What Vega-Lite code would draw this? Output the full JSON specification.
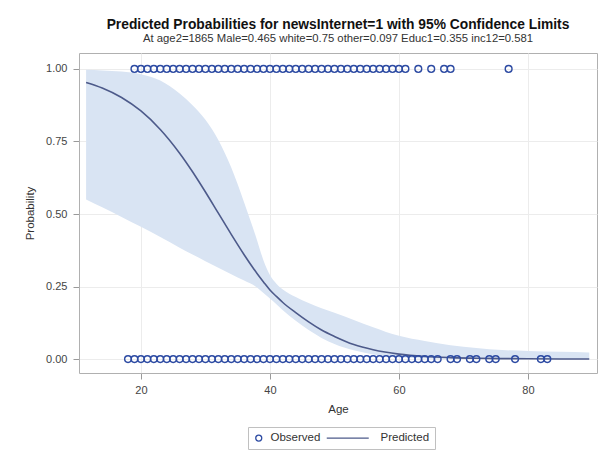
{
  "$schema": "https://vega.github.io/schema/vega-lite/v6.json",
  "autosize": {"type": "none"},
  "padding": {"left": 79, "top": 53, "right": 3, "bottom": 83},
  "width": 518,
  "height": 320,
  "background": "white",
  "title": {
    "text": "Predicted Probabilities for newsInternet=1 with 95% Confidence Limits",
    "subtitle": "At age2=1865 Male=0.465 white=0.75 other=0.097 Educ1=0.355 inc12=0.581",
    "font": "Liberation Sans",
    "fontSize": 13.8,
    "fontWeight": "bold",
    "color": "#111111",
    "subtitleFont": "Liberation Sans",
    "subtitleFontSize": 11.3,
    "subtitleColor": "#333333",
    "subtitlePadding": 1,
    "anchor": "middle",
    "frame": "group",
    "offset": 9
  },
  "config": {
    "view": {"stroke": "#b0b0b0", "strokeWidth": 1},
    "axis": {
      "labelFont": "Liberation Sans",
      "labelFontSize": 11,
      "labelColor": "#444444",
      "titleFont": "Liberation Sans",
      "titleFontSize": 11.5,
      "titleFontWeight": "normal",
      "titleColor": "#333333",
      "tickColor": "#9a9a9a",
      "tickSize": 6,
      "gridColor": "#ececec",
      "domain": false
    }
  },
  "datasets": {
    "curve": [
      {"age": 11.5, "lower": 0.5500, "upper": 0.9970, "pred": 0.9537},
      {"age": 14, "lower": 0.5230, "upper": 0.9950, "pred": 0.9345},
      {"age": 17, "lower": 0.4900, "upper": 0.9910, "pred": 0.9018},
      {"age": 20, "lower": 0.4560, "upper": 0.9820, "pred": 0.8552},
      {"age": 23, "lower": 0.4205, "upper": 0.9600, "pred": 0.7916},
      {"age": 26, "lower": 0.3841, "upper": 0.9150, "pred": 0.7097},
      {"age": 28, "lower": 0.3604, "upper": 0.8750, "pred": 0.6457},
      {"age": 30, "lower": 0.3373, "upper": 0.8250, "pred": 0.5759},
      {"age": 32, "lower": 0.3147, "upper": 0.7550, "pred": 0.5030},
      {"age": 34, "lower": 0.2925, "upper": 0.6600, "pred": 0.4299},
      {"age": 36, "lower": 0.2705, "upper": 0.5400, "pred": 0.3598},
      {"age": 38, "lower": 0.2469, "upper": 0.4100, "pred": 0.2952},
      {"age": 39, "lower": 0.2280, "upper": 0.3400, "pred": 0.2660},
      {"age": 40, "lower": 0.2085, "upper": 0.2900, "pred": 0.2379},
      {"age": 41, "lower": 0.1890, "upper": 0.2600, "pred": 0.2160},
      {"age": 42, "lower": 0.1680, "upper": 0.2400, "pred": 0.1950},
      {"age": 44, "lower": 0.1320, "upper": 0.2140, "pred": 0.1600},
      {"age": 46, "lower": 0.1000, "upper": 0.1930, "pred": 0.1280},
      {"age": 48, "lower": 0.0730, "upper": 0.1750, "pred": 0.1000},
      {"age": 50, "lower": 0.0520, "upper": 0.1600, "pred": 0.0780},
      {"age": 53, "lower": 0.0300, "upper": 0.1350, "pred": 0.0500},
      {"age": 56, "lower": 0.0160, "upper": 0.1100, "pred": 0.0320},
      {"age": 60, "lower": 0.0060, "upper": 0.0800, "pred": 0.0170},
      {"age": 64, "lower": 0.0020, "upper": 0.0620, "pred": 0.0091},
      {"age": 68, "lower": 0.0006, "upper": 0.0480, "pred": 0.0051},
      {"age": 72, "lower": 0.0002, "upper": 0.0380, "pred": 0.0028},
      {"age": 76, "lower": 0.0000, "upper": 0.0310, "pred": 0.0016},
      {"age": 80, "lower": 0.0000, "upper": 0.0280, "pred": 0.0009},
      {"age": 85, "lower": 0.0000, "upper": 0.0250, "pred": 0.0004},
      {"age": 89.5, "lower": 0.0000, "upper": 0.0230, "pred": 0.0002}
    ],
    "obs": [
      {"age": 19, "y": 1, "series": "Observed"}, {"age": 20, "y": 1, "series": "Observed"}, {"age": 21, "y": 1, "series": "Observed"},
      {"age": 22, "y": 1, "series": "Observed"}, {"age": 23, "y": 1, "series": "Observed"}, {"age": 24, "y": 1, "series": "Observed"},
      {"age": 25, "y": 1, "series": "Observed"}, {"age": 26, "y": 1, "series": "Observed"}, {"age": 27, "y": 1, "series": "Observed"},
      {"age": 28, "y": 1, "series": "Observed"}, {"age": 29, "y": 1, "series": "Observed"}, {"age": 30, "y": 1, "series": "Observed"},
      {"age": 31, "y": 1, "series": "Observed"}, {"age": 32, "y": 1, "series": "Observed"}, {"age": 33, "y": 1, "series": "Observed"},
      {"age": 34, "y": 1, "series": "Observed"}, {"age": 35, "y": 1, "series": "Observed"}, {"age": 36, "y": 1, "series": "Observed"},
      {"age": 37, "y": 1, "series": "Observed"}, {"age": 38, "y": 1, "series": "Observed"}, {"age": 39, "y": 1, "series": "Observed"},
      {"age": 40, "y": 1, "series": "Observed"}, {"age": 41, "y": 1, "series": "Observed"}, {"age": 42, "y": 1, "series": "Observed"},
      {"age": 43, "y": 1, "series": "Observed"}, {"age": 44, "y": 1, "series": "Observed"}, {"age": 45, "y": 1, "series": "Observed"},
      {"age": 46, "y": 1, "series": "Observed"}, {"age": 47, "y": 1, "series": "Observed"}, {"age": 48, "y": 1, "series": "Observed"},
      {"age": 49, "y": 1, "series": "Observed"}, {"age": 50, "y": 1, "series": "Observed"}, {"age": 51, "y": 1, "series": "Observed"},
      {"age": 52, "y": 1, "series": "Observed"}, {"age": 53, "y": 1, "series": "Observed"}, {"age": 54, "y": 1, "series": "Observed"},
      {"age": 55, "y": 1, "series": "Observed"}, {"age": 56, "y": 1, "series": "Observed"}, {"age": 57, "y": 1, "series": "Observed"},
      {"age": 58, "y": 1, "series": "Observed"}, {"age": 59, "y": 1, "series": "Observed"}, {"age": 60, "y": 1, "series": "Observed"},
      {"age": 61, "y": 1, "series": "Observed"}, {"age": 63, "y": 1, "series": "Observed"}, {"age": 65, "y": 1, "series": "Observed"},
      {"age": 67, "y": 1, "series": "Observed"}, {"age": 68, "y": 1, "series": "Observed"}, {"age": 77, "y": 1, "series": "Observed"},
      {"age": 18, "y": 0, "series": "Observed"}, {"age": 19, "y": 0, "series": "Observed"}, {"age": 20, "y": 0, "series": "Observed"},
      {"age": 21, "y": 0, "series": "Observed"}, {"age": 22, "y": 0, "series": "Observed"}, {"age": 23, "y": 0, "series": "Observed"},
      {"age": 24, "y": 0, "series": "Observed"}, {"age": 25, "y": 0, "series": "Observed"}, {"age": 26, "y": 0, "series": "Observed"},
      {"age": 27, "y": 0, "series": "Observed"}, {"age": 28, "y": 0, "series": "Observed"}, {"age": 29, "y": 0, "series": "Observed"},
      {"age": 30, "y": 0, "series": "Observed"}, {"age": 31, "y": 0, "series": "Observed"}, {"age": 32, "y": 0, "series": "Observed"},
      {"age": 33, "y": 0, "series": "Observed"}, {"age": 34, "y": 0, "series": "Observed"}, {"age": 35, "y": 0, "series": "Observed"},
      {"age": 36, "y": 0, "series": "Observed"}, {"age": 37, "y": 0, "series": "Observed"}, {"age": 38, "y": 0, "series": "Observed"},
      {"age": 39, "y": 0, "series": "Observed"}, {"age": 40, "y": 0, "series": "Observed"}, {"age": 41, "y": 0, "series": "Observed"},
      {"age": 42, "y": 0, "series": "Observed"}, {"age": 43, "y": 0, "series": "Observed"}, {"age": 44, "y": 0, "series": "Observed"},
      {"age": 45, "y": 0, "series": "Observed"}, {"age": 46, "y": 0, "series": "Observed"}, {"age": 47, "y": 0, "series": "Observed"},
      {"age": 48, "y": 0, "series": "Observed"}, {"age": 49, "y": 0, "series": "Observed"}, {"age": 50, "y": 0, "series": "Observed"},
      {"age": 51, "y": 0, "series": "Observed"}, {"age": 52, "y": 0, "series": "Observed"}, {"age": 53, "y": 0, "series": "Observed"},
      {"age": 54, "y": 0, "series": "Observed"}, {"age": 55, "y": 0, "series": "Observed"}, {"age": 56, "y": 0, "series": "Observed"},
      {"age": 57, "y": 0, "series": "Observed"}, {"age": 58, "y": 0, "series": "Observed"}, {"age": 59, "y": 0, "series": "Observed"},
      {"age": 60, "y": 0, "series": "Observed"}, {"age": 61, "y": 0, "series": "Observed"}, {"age": 62, "y": 0, "series": "Observed"},
      {"age": 63, "y": 0, "series": "Observed"}, {"age": 64, "y": 0, "series": "Observed"}, {"age": 65, "y": 0, "series": "Observed"},
      {"age": 66, "y": 0, "series": "Observed"}, {"age": 68, "y": 0, "series": "Observed"}, {"age": 69, "y": 0, "series": "Observed"},
      {"age": 71, "y": 0, "series": "Observed"}, {"age": 72, "y": 0, "series": "Observed"}, {"age": 74, "y": 0, "series": "Observed"},
      {"age": 75, "y": 0, "series": "Observed"}, {"age": 78, "y": 0, "series": "Observed"}, {"age": 82, "y": 0, "series": "Observed"},
      {"age": 83, "y": 0, "series": "Observed"}
    ]
  },
  "layer": [
    {
      "data": {"name": "curve"},
      "mark": {"type": "area", "color": "#d9e4f3", "opacity": 1, "interpolate": "monotone"},
      "encoding": {
        "x": {"field": "age", "type": "quantitative", "scale": {"domain": [10.4, 90.7], "nice": false, "zero": false},
              "axis": {"title": "Age", "values": [20, 40, 60, 80], "format": "d", "grid": true, "labelPadding": 5, "titlePadding": 8}},
        "y": {"field": "lower", "type": "quantitative", "scale": {"domain": [-0.048, 1.055], "nice": false, "zero": false},
              "axis": {"title": "Probability", "values": [0, 0.25, 0.5, 0.75, 1], "format": ".2f", "grid": true, "labelPadding": 6, "titlePadding": 10}},
        "y2": {"field": "upper"}
      }
    },
    {
      "data": {"name": "curve"},
      "mark": {"type": "line", "color": "#4d5a8a", "strokeWidth": 1.6, "interpolate": "monotone"},
      "encoding": {
        "x": {"field": "age", "type": "quantitative"},
        "y": {"field": "pred", "type": "quantitative"}
      }
    },
    {
      "data": {"name": "obs"},
      "mark": {"type": "point", "filled": false, "size": 46, "strokeWidth": 1.4, "opacity": 1},
      "encoding": {
        "x": {"field": "age", "type": "quantitative"},
        "y": {"field": "y", "type": "quantitative"},
        "color": {"field": "series", "type": "nominal",
                  "scale": {"domain": ["Observed", "Predicted"], "range": ["#2d4ba3", "#4d5a8a"]},
                  "legend": {"orient": "none", "legendX": 169, "legendY": 374, "direction": "horizontal", "title": null, "labelFont": "Liberation Sans", "labelFontSize": 11.5, "labelColor": "#333333", "strokeColor": "#c0c0c0", "padding": 5, "symbolSize": 36, "symbolStrokeWidth": 1.3, "labelOffset": 6, "columnPadding": 3}},
        "shape": {"field": "series", "type": "nominal",
                  "scale": {"domain": ["Observed", "Predicted"], "range": ["circle", "M-14,0L0,0"]},
                  "legend": {"orient": "none", "legendX": 169, "legendY": 374, "direction": "horizontal", "title": null, "labelFont": "Liberation Sans", "labelFontSize": 11.5, "labelColor": "#333333", "strokeColor": "#c0c0c0", "padding": 5, "symbolSize": 36, "symbolStrokeWidth": 1.3, "labelOffset": 6, "columnPadding": 3}}
      }
    }
  ]
}
